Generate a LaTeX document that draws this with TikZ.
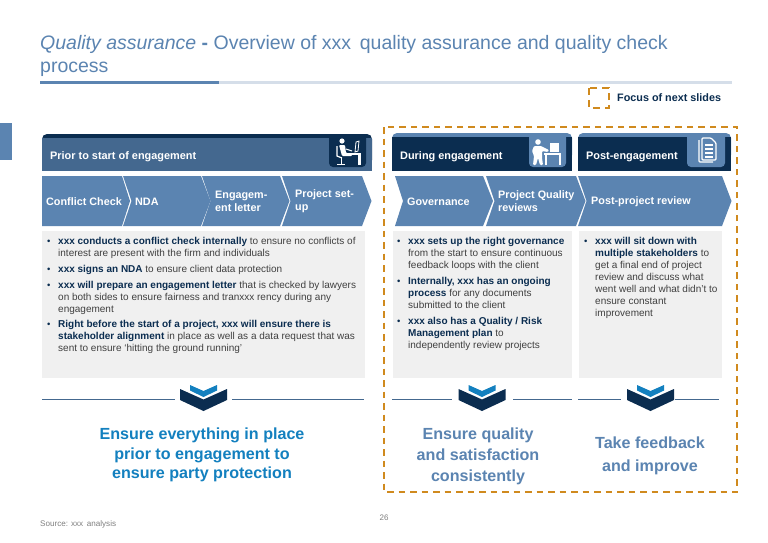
\documentclass[tikz,border=0pt]{standalone}
\usepackage{fontspec}
\setmainfont{Liberation Sans}
\definecolor{navy}{HTML}{0B2D50}
\definecolor{midblue}{HTML}{44688F}
\definecolor{steel}{HTML}{5B84B1}
\definecolor{rulelight}{HTML}{D5DEE9}
\definecolor{panel}{HTML}{F0F0F0}
\definecolor{focus}{HTML}{D08A1E}
\definecolor{brightblue}{HTML}{1380BF}
\definecolor{bodygray}{HTML}{404040}
\newcommand{\hl}[1]{\textbf{\textcolor{navy}{#1}}}
\newcommand{\fsz}[2]{\fontsize{#1}{#2}\selectfont}
\tikzset{
  stagetext/.style={anchor=west, inner sep=0pt, text=white, align=left, font=\fsz{10.8}{13}\bfseries},
  headtext/.style={anchor=base west, inner sep=0pt, text=white, font=\fsz{10.9}{13}\bfseries},
  bodytext/.style={anchor=north west, inner sep=0pt, align=left, text=bodygray, font=\fsz{10}{12}},
  bulletmark/.style={anchor=base west, inner sep=0pt, text=navy, font=\fsz{9.5}{12}},
  resulttext/.style={inner sep=0pt, align=center},
  titletext/.style={anchor=base west, inner sep=0pt, text=steel, font=\fsz{19.5}{24}},
  focusline/.style={draw=focus, line width=1.5pt, dash pattern=on 6.5pt off 5pt},
  splitline/.style={draw=midblue, line width=0.9pt}
}
\begin{document}
\begin{tikzpicture}[x=1pt, y=-1pt]
  \useasboundingbox[fill=white] (0,0) rectangle (768,542);
  % title
  \node[titletext] (titleA) at (40,49) {\textit{Quality assurance} \textbf{-} Overview of xxx\, quality assurance and quality check};
  \node[titletext] (titleB) at (40,72) {process};
  \fill[rulelight] (219,81) rectangle (732,84);
  \fill[steel] (40,81) rectangle (219,84);
  \fill[steel] (0,123) rectangle (12,160);
  % legend
  \draw[focusline, dash pattern=on 7pt off 5pt] (589,88) rectangle (609,108);
  \node[anchor=west, inner sep=0pt, text=navy, font=\fsz{10.8}{12}\bfseries] (legend) at (617,98) {Focus of next slides};
  % headers
  \fill[navy, rounded corners=5pt] (42,134) -- (42,165) -- (372,165) -- (372,134) -- cycle;
  \fill[midblue] (42,138) rectangle (372,171);
  \fill[navy] (329,134) [rounded corners=4pt] -- (329,167) -- (366,167) [sharp corners] -- (366,134) -- cycle;
  \fill[steel, rounded corners=5pt] (392,133) -- (392,160) -- (572,160) -- (572,133) -- cycle;
  \fill[navy] (392,137) rectangle (572,171);
  \fill[steel] (529,133) [rounded corners=4pt] -- (529,167) -- (566,167) [sharp corners] -- (566,133) -- cycle;
  \fill[steel, rounded corners=5pt] (578,133) -- (578,160) -- (731,160) -- (731,133) -- cycle;
  \fill[navy] (578,137) rectangle (731,171);
  \fill[steel] (687,133) [rounded corners=4pt] -- (687,167) -- (725,167) [sharp corners] -- (725,133) -- cycle;
  \node[headtext] (headA) at (50,159) {Prior to start of engagement};
  \node[headtext] (headB) at (400,159) {During engagement};
  \node[headtext] (headC) at (586,159) {Post-engagement};
  % icons
  \begin{scope}[white]
    \fill (342,141) circle (2.6pt);
    \fill[rounded corners=1pt] (339,145) -- (345,145) -- (346,153) -- (352,153) -- (352,156) -- (342,156) -- cycle;
    \draw[line width=1.2pt] (337,146) -- (337,156) -- (342,158);
    \draw[line width=1pt] (341,157) -- (341,164) (337,164) -- (345,164);
    \draw[line width=1pt] (346,149) -- (352,151);
    \fill (349,153) rectangle (361,154.5);
    \fill (358,154) rectangle (361,165);
    \draw[line width=0.8pt] (356,142) -- (359,141) -- (358,151) -- (355,152) -- cycle;
    \fill (538,142) circle (2.8pt);
    \fill[rounded corners=1pt] (534,146) -- (541,146) -- (549,150) -- (548,152) -- (542,151) -- (542,158) -- (543,165) -- (540,165) -- (538,158) -- (536,165) -- (533,165) -- (534,156) -- (532,151) -- cycle;
    \fill (544,153) rectangle (561,155);
    \draw[line width=1.1pt] (546,155) -- (546,165) (560,155) -- (560,165);
    \fill (550,143) rectangle (559,152);
    \draw[line width=1.2pt, rounded corners=1pt] (699,140) -- (699,162) -- (713,162);
    \draw[line width=1.3pt, rounded corners=1pt, fill=steel] (702,138) -- (702,160) -- (716,160) -- (716,143) -- (711,138) -- cycle;
    \draw[line width=1.1pt] (705,145) -- (713,145) (705,149) -- (713,149) (705,153) -- (713,153) (705,157) -- (713,157);
  \end{scope}
  % stages
  \fill[steel] (42,176) -- (122,176) -- (130,201) -- (122,226) -- (42,226) -- cycle;
  \foreach \xa/\xb in {123/201, 202/280, 282/362, 486/576, 578/722} {
    \pgfmathsetmacro{\xn}{\xa+8.5}
    \pgfmathsetmacro{\xt}{\xb+9.5}
    \fill[steel] (\xa,176) -- (\xb,176) -- (\xt,201) -- (\xb,226) -- (\xa,226) -- (\xn,201) -- cycle;
  }
  \fill[steel] (395,176) -- (483,176) -- (493,201) -- (483,226) -- (395,226) -- (403,201) -- cycle;
  \node[stagetext] (stageA) at (46,201.5) {Conflict Check};
  \node[stagetext] (stageB) at (135,201.5) {NDA};
  \node[stagetext] (stageC) at (215,201.5) {Engagem-\\ent letter};
  \node[stagetext] (stageD) at (295,201.5) {Project set-\\up};
  \node[stagetext] (stageE) at (407,201.5) {Governance};
  \node[stagetext] (stageF) at (498,201.5) {Project Quality\\reviews};
  \node[stagetext] (stageG) at (591,201.5) {Post-project review};
  % panels
  \fill[panel] (42,231) rectangle (365,378);
  \fill[panel] (393,231) rectangle (572,378);
  \fill[panel] (579,231) rectangle (722,378);
  \foreach \bx/\by in {47/244.5, 47/272.5, 47/288.5, 47/327.5, 397/244.5, 397/284.5, 397/324.5, 584/244.5}
    \node[bulletmark] at (\bx,\by) {•};
  \node[bodytext] (itemA) at (58,237) {\hl{xxx conducts a conflict check internally} to ensure no conflicts of\\interest are present with the firm and individuals};
  \node[bodytext] (itemB) at (58,265) {\hl{xxx signs an NDA} to ensure client data protection};
  \node[bodytext] (itemC) at (58,281) {\hl{xxx will prepare an engagement letter} that is checked by lawyers\\on both sides to ensure fairness and tranxxx rency during any\\engagement};
  \node[bodytext] (itemD) at (58,320) {\hl{Right before the start of a project, xxx will ensure there is}\\\hl{stakeholder alignment} in place as well as a data request that was\\sent to ensure ‘hitting the ground running’};
  \node[bodytext] (itemE) at (408,237) {\hl{xxx sets up the right governance}\\from the start to ensure continuous\\feedback loops with the client};
  \node[bodytext] (itemF) at (408,277) {\hl{Internally, xxx has an ongoing}\\\hl{process} for any documents\\submitted to the client};
  \node[bodytext] (itemG) at (408,317) {\hl{xxx also has a Quality / Risk}\\\hl{Management plan} to\\independently review projects};
  \node[bodytext] (itemH) at (595,237) {\hl{xxx will sit down with}\\\hl{multiple stakeholders} to\\get a final end of project\\review and discuss what\\went well and what didn’t to\\ensure constant\\improvement};
  % splitters
  \draw[splitline] (42,399) -- (175,399) (232,399) -- (364,399);
  \draw[splitline] (392,399) -- (452,399) (513,399) -- (572,399);
  \draw[splitline] (578,399) -- (621,399) (675,399) -- (719,399);
  \foreach \cx in {203.5, 482, 650.5} {
    \begin{scope}[shift={(\cx,0)}]
      \fill[navy] (-23.5,389) -- (0,399.5) -- (23.5,389) -- (23.5,400) -- (0,411) -- (-23.5,400) -- cycle;
      \fill[brightblue] (-13.5,385) -- (0,391) -- (13.5,385) -- (13.5,390.5) -- (0,397) -- (-13.5,390.5) -- cycle;
    \end{scope}
  }
  % results
  \node[resulttext, text=brightblue, font=\fsz{16.1}{19.6}\bfseries] (resultA) at (202,455) {Ensure everything in place\\prior to engagement to\\ensure party protection};
  \node[resulttext, text=steel, font=\fsz{16.1}{21}\bfseries] (resultB) at (478,456) {Ensure quality\\and satisfaction\\consistently};
  \node[resulttext, text=steel, font=\fsz{16.1}{23}\bfseries] (resultC) at (650,455.5) {Take feedback\\and improve};
  \draw[focusline] (384,127) rectangle (737,492);
  % footer
  \node[anchor=west, inner sep=0pt, text=gray, font=\fsz{8.1}{10}] (source) at (40,524) {Source: xxx\, analysis};
  \node[inner sep=0pt, text=gray, font=\fsz{8}{10}] (pageno) at (384,518) {26};
\end{tikzpicture}
\end{document}
